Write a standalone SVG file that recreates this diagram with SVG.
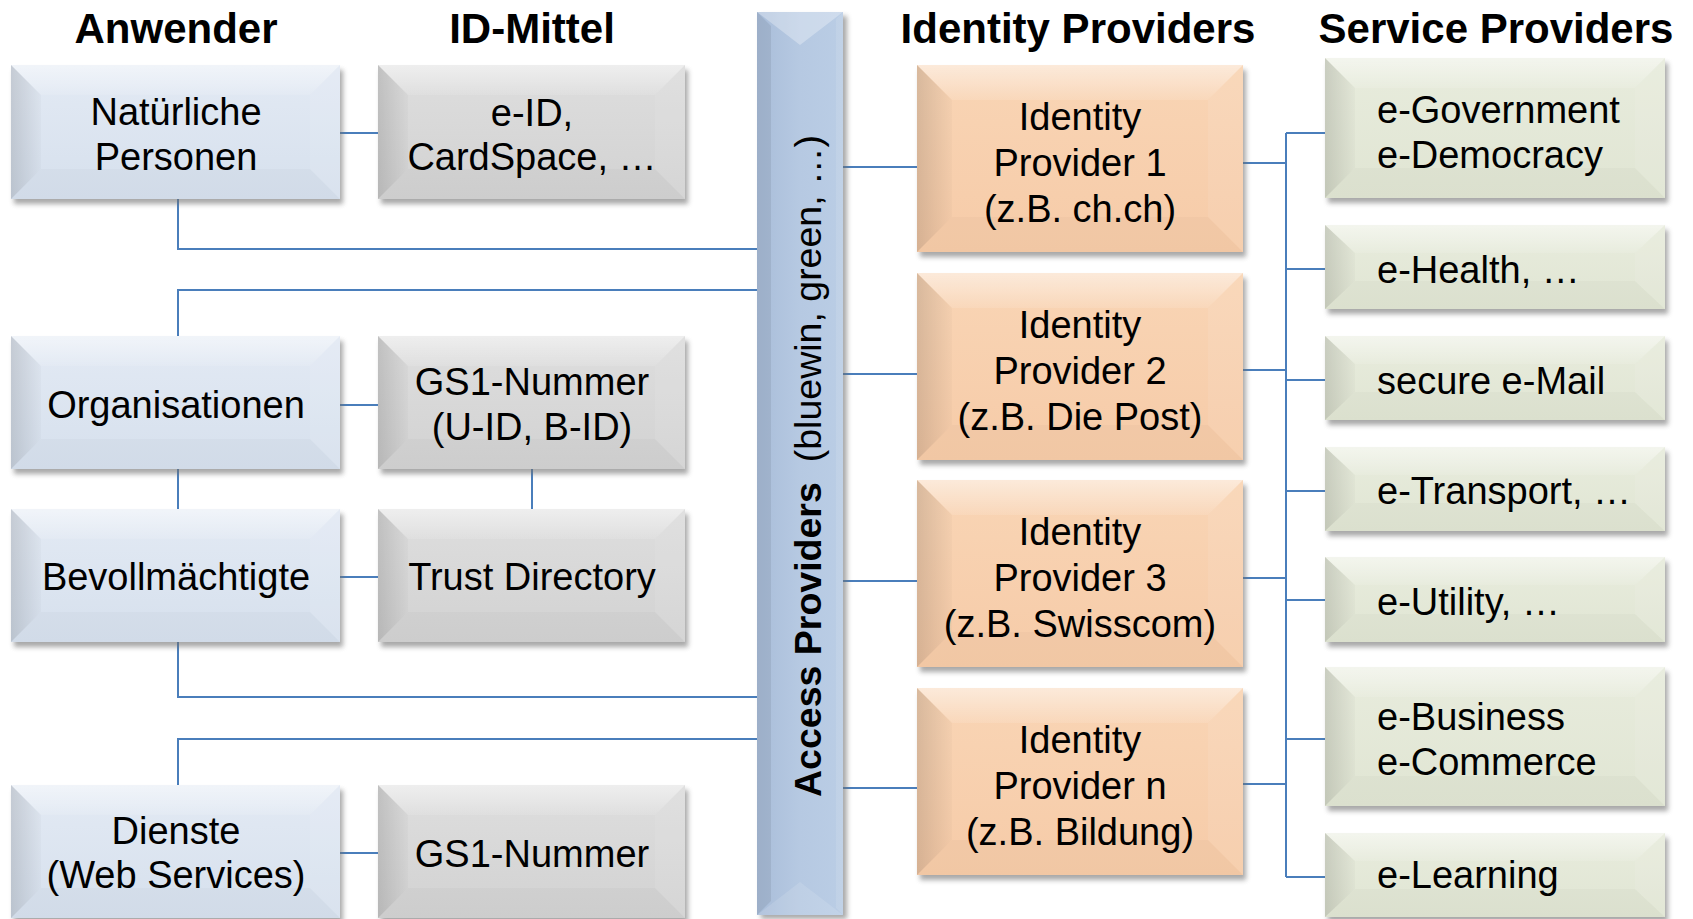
<svg xmlns="http://www.w3.org/2000/svg" width="1693" height="919" viewBox="0 0 1693 919">
<defs>
<filter id="sh" x="-10%" y="-10%" width="120%" height="130%"><feGaussianBlur stdDeviation="2.5"/></filter>
<linearGradient id="gBlue" x1="0" y1="0" x2="0" y2="1"><stop offset="0" stop-color="#E3EAF4"/><stop offset="1" stop-color="#D6E0ED"/></linearGradient>
<linearGradient id="gGrey" x1="0" y1="0" x2="0" y2="1"><stop offset="0" stop-color="#DEDEDE"/><stop offset="1" stop-color="#D2D2D2"/></linearGradient>
<linearGradient id="gOrange" x1="0" y1="0" x2="0" y2="1"><stop offset="0" stop-color="#F9D5B5"/><stop offset="1" stop-color="#F6CBA8"/></linearGradient>
<linearGradient id="gGreen" x1="0" y1="0" x2="0" y2="1"><stop offset="0" stop-color="#E8ECDD"/><stop offset="1" stop-color="#E0E5D3"/></linearGradient>
<linearGradient id="gBar" x1="0" y1="0" x2="1" y2="0"><stop offset="0" stop-color="#A9BDD9"/><stop offset="0.5" stop-color="#B6C9E2"/><stop offset="1" stop-color="#BACDE5"/></linearGradient>
<linearGradient id="gLeft" x1="0" y1="0" x2="1" y2="0"><stop offset="0" stop-color="#000" stop-opacity="0.13"/><stop offset="1" stop-color="#000" stop-opacity="0.02"/></linearGradient>
<linearGradient id="gTop" x1="0" y1="0" x2="0" y2="1"><stop offset="0" stop-color="#fff" stop-opacity="0.5"/><stop offset="1" stop-color="#fff" stop-opacity="0.1"/></linearGradient>
</defs>
<style>
text{font-family:"Liberation Sans",Arial,sans-serif;fill:#000}
.hd{font-size:42px;font-weight:bold;text-anchor:middle}
.t{font-size:38px;text-anchor:middle}
.tl{font-size:38px;text-anchor:start}
.shadow{fill:#6f6f6f;opacity:0.6;filter:url(#sh)}
.blue .face{fill:url(#gBlue)}
.grey .face{fill:url(#gGrey)}
.orange .face{fill:url(#gOrange)}
.green .face{fill:url(#gGreen)}
.ft{fill:url(#gTop)}
.fl{fill:url(#gLeft)}
.fr{fill:#fff;fill-opacity:0.08}
.fb{fill:#000;fill-opacity:0.02}
#connectors path{fill:none;stroke:#4A7EBB;stroke-width:2}
</style>
<rect width="1693" height="919" fill="#fff"/>

<g id="headers">
<text class="hd" x="176" y="43">Anwender</text>
<text class="hd" x="532" y="43">ID-Mittel</text>
<text class="hd" x="1078" y="43">Identity Providers</text>
<text class="hd" x="1496" y="43">Service Providers</text>
</g>

<g id="connectors">
<path d="M340,133 H378"/>
<path d="M178,199 V249 H757"/>
<path d="M757,290 H178 V336"/>
<path d="M340,405 H378"/>
<path d="M178,469 V509"/>
<path d="M532,469 V509"/>
<path d="M340,577 H378"/>
<path d="M178,642 V697 H757"/>
<path d="M757,739 H178 V785"/>
<path d="M340,853 H378"/>
<path d="M843,167 H917"/>
<path d="M843,374 H917"/>
<path d="M843,581 H917"/>
<path d="M843,788 H917"/>
<path d="M1243,163 H1286"/>
<path d="M1243,370 H1286"/>
<path d="M1243,578 H1286"/>
<path d="M1243,784 H1286"/>
<path d="M1286,133 V877"/>
<path d="M1286,133 H1325"/>
<path d="M1286,269 H1325"/>
<path d="M1286,380 H1325"/>
<path d="M1286,491 H1325"/>
<path d="M1286,600 H1325"/>
<path d="M1286,739 H1325"/>
<path d="M1286,877 H1325"/>
</g>

<!-- Anwender -->
<g id="n-natuerliche" class="blue">
<rect class="shadow" x="14" y="70" width="329" height="134"/>
<rect class="face" x="11" y="65" width="329" height="134"/>
<polygon class="ft" points="11,65 340,65 310,95 41,95"/>
<polygon class="fl" points="11,65 41,95 41,169 11,199"/>
<polygon class="fr" points="340,65 340,199 310,169 310,95"/>
<polygon class="fb" points="11,199 41,169 310,169 340,199"/>
<text class="t" x="176" y="125">Natürliche</text>
<text class="t" x="176" y="170">Personen</text>
</g>
<g id="n-organisationen" class="blue">
<rect class="shadow" x="14" y="341" width="329" height="133"/>
<rect class="face" x="11" y="336" width="329" height="133"/>
<polygon class="ft" points="11,336 340,336 310,366 41,366"/>
<polygon class="fl" points="11,336 41,366 41,439 11,469"/>
<polygon class="fr" points="340,336 340,469 310,439 310,366"/>
<polygon class="fb" points="11,469 41,439 310,439 340,469"/>
<text class="t" x="176" y="418">Organisationen</text>
</g>
<g id="n-bevollmaechtigte" class="blue">
<rect class="shadow" x="14" y="514" width="329" height="133"/>
<rect class="face" x="11" y="509" width="329" height="133"/>
<polygon class="ft" points="11,509 340,509 310,539 41,539"/>
<polygon class="fl" points="11,509 41,539 41,612 11,642"/>
<polygon class="fr" points="340,509 340,642 310,612 310,539"/>
<polygon class="fb" points="11,642 41,612 310,612 340,642"/>
<text class="t" x="176" y="590">Bevollmächtigte</text>
</g>
<g id="n-dienste" class="blue">
<rect class="shadow" x="14" y="790" width="329" height="133"/>
<rect class="face" x="11" y="785" width="329" height="133"/>
<polygon class="ft" points="11,785 340,785 310,815 41,815"/>
<polygon class="fl" points="11,785 41,815 41,888 11,918"/>
<polygon class="fr" points="340,785 340,918 310,888 310,815"/>
<polygon class="fb" points="11,918 41,888 310,888 340,918"/>
<text class="t" x="176" y="844">Dienste</text>
<text class="t" x="176" y="888">(Web Services)</text>
</g>

<!-- ID-Mittel -->
<g id="n-eid" class="grey">
<rect class="shadow" x="381" y="70" width="307" height="134"/>
<rect class="face" x="378" y="65" width="307" height="134"/>
<polygon class="ft" points="378,65 685,65 655,95 408,95"/>
<polygon class="fl" points="378,65 408,95 408,169 378,199"/>
<polygon class="fr" points="685,65 685,199 655,169 655,95"/>
<polygon class="fb" points="378,199 408,169 655,169 685,199"/>
<text class="t" x="532" y="126">e-ID,</text>
<text class="t" x="532" y="170">CardSpace, …</text>
</g>
<g id="n-gs1-uid" class="grey">
<rect class="shadow" x="381" y="341" width="307" height="133"/>
<rect class="face" x="378" y="336" width="307" height="133"/>
<polygon class="ft" points="378,336 685,336 655,366 408,366"/>
<polygon class="fl" points="378,336 408,366 408,439 378,469"/>
<polygon class="fr" points="685,336 685,469 655,439 655,366"/>
<polygon class="fb" points="378,469 408,439 655,439 685,469"/>
<text class="t" x="532" y="395">GS1-Nummer</text>
<text class="t" x="532" y="440">(U-ID, B-ID)</text>
</g>
<g id="n-trust" class="grey">
<rect class="shadow" x="381" y="514" width="307" height="133"/>
<rect class="face" x="378" y="509" width="307" height="133"/>
<polygon class="ft" points="378,509 685,509 655,539 408,539"/>
<polygon class="fl" points="378,509 408,539 408,612 378,642"/>
<polygon class="fr" points="685,509 685,642 655,612 655,539"/>
<polygon class="fb" points="378,642 408,612 655,612 685,642"/>
<text class="t" x="532" y="590">Trust Directory</text>
</g>
<g id="n-gs1" class="grey">
<rect class="shadow" x="381" y="790" width="307" height="133"/>
<rect class="face" x="378" y="785" width="307" height="133"/>
<polygon class="ft" points="378,785 685,785 655,815 408,815"/>
<polygon class="fl" points="378,785 408,815 408,888 378,918"/>
<polygon class="fr" points="685,785 685,918 655,888 655,815"/>
<polygon class="fb" points="378,918 408,888 655,888 685,918"/>
<text class="t" x="532" y="867">GS1-Nummer</text>
</g>

<!-- Access Providers bar -->
<g id="n-access">
<rect class="shadow" x="761" y="16" width="86" height="903"/>
<rect x="757" y="12" width="86" height="903" fill="url(#gBar)"/>
<polygon points="757,12 843,12 800,45" fill="#fff" fill-opacity="0.3"/>
<polygon points="757,12 771,26 771,901 757,915" fill="#000" fill-opacity="0.07"/>
<polygon points="843,12 836,19 836,908 843,915" fill="#fff" fill-opacity="0.1"/>
<polygon points="757,915 800,882 843,915" fill="#fff" fill-opacity="0.12"/>
<text transform="translate(821,797) rotate(-90)" style="font-size:37.5px"><tspan font-weight="bold">Access Providers</tspan><tspan dx="20">(bluewin, green, …)</tspan></text>
</g>

<!-- Identity Providers -->
<g id="n-idp1" class="orange">
<rect class="shadow" x="920" y="70" width="326" height="187"/>
<rect class="face" x="917" y="65" width="326" height="187"/>
<polygon class="ft" points="917,65 1243,65 1208,100 952,100"/>
<polygon class="fl" points="917,65 952,100 952,217 917,252"/>
<polygon class="fr" points="1243,65 1243,252 1208,217 1208,100"/>
<polygon class="fb" points="917,252 952,217 1208,217 1243,252"/>
<text class="t" x="1080" y="130">Identity</text>
<text class="t" x="1080" y="176">Provider 1</text>
<text class="t" x="1080" y="222">(z.B. ch.ch)</text>
</g>
<g id="n-idp2" class="orange">
<rect class="shadow" x="920" y="278" width="326" height="187"/>
<rect class="face" x="917" y="273" width="326" height="187"/>
<polygon class="ft" points="917,273 1243,273 1208,308 952,308"/>
<polygon class="fl" points="917,273 952,308 952,425 917,460"/>
<polygon class="fr" points="1243,273 1243,460 1208,425 1208,308"/>
<polygon class="fb" points="917,460 952,425 1208,425 1243,460"/>
<text class="t" x="1080" y="338">Identity</text>
<text class="t" x="1080" y="384">Provider 2</text>
<text class="t" x="1080" y="430">(z.B. Die Post)</text>
</g>
<g id="n-idp3" class="orange">
<rect class="shadow" x="920" y="485" width="326" height="187"/>
<rect class="face" x="917" y="480" width="326" height="187"/>
<polygon class="ft" points="917,480 1243,480 1208,515 952,515"/>
<polygon class="fl" points="917,480 952,515 952,632 917,667"/>
<polygon class="fr" points="1243,480 1243,667 1208,632 1208,515"/>
<polygon class="fb" points="917,667 952,632 1208,632 1243,667"/>
<text class="t" x="1080" y="545">Identity</text>
<text class="t" x="1080" y="591">Provider 3</text>
<text class="t" x="1080" y="637">(z.B. Swisscom)</text>
</g>
<g id="n-idpn" class="orange">
<rect class="shadow" x="920" y="693" width="326" height="187"/>
<rect class="face" x="917" y="688" width="326" height="187"/>
<polygon class="ft" points="917,688 1243,688 1208,723 952,723"/>
<polygon class="fl" points="917,688 952,723 952,840 917,875"/>
<polygon class="fr" points="1243,688 1243,875 1208,840 1208,723"/>
<polygon class="fb" points="917,875 952,840 1208,840 1243,875"/>
<text class="t" x="1080" y="753">Identity</text>
<text class="t" x="1080" y="799">Provider n</text>
<text class="t" x="1080" y="845">(z.B. Bildung)</text>
</g>

<!-- Service Providers -->
<g id="n-egov" class="green">
<rect class="shadow" x="1328" y="63" width="340" height="140"/>
<rect class="face" x="1325" y="58" width="340" height="140"/>
<polygon class="ft" points="1325,58 1665,58 1635,88 1355,88"/>
<polygon class="fl" points="1325,58 1355,88 1355,168 1325,198"/>
<polygon class="fr" points="1665,58 1665,198 1635,168 1635,88"/>
<polygon class="fb" points="1325,198 1355,168 1635,168 1665,198"/>
<text class="tl" x="1377" y="123">e-Government</text>
<text class="tl" x="1377" y="168">e-Democracy</text>
</g>
<g id="n-ehealth" class="green">
<rect class="shadow" x="1328" y="230" width="340" height="84"/>
<rect class="face" x="1325" y="225" width="340" height="84"/>
<polygon class="ft" points="1325,225 1665,225 1635,253 1355,253"/>
<polygon class="fl" points="1325,225 1355,253 1355,281 1325,309"/>
<polygon class="fr" points="1665,225 1665,309 1635,281 1635,253"/>
<polygon class="fb" points="1325,309 1355,281 1635,281 1665,309"/>
<text class="tl" x="1377" y="283">e-Health, …</text>
</g>
<g id="n-email" class="green">
<rect class="shadow" x="1328" y="341" width="340" height="84"/>
<rect class="face" x="1325" y="336" width="340" height="84"/>
<polygon class="ft" points="1325,336 1665,336 1635,364 1355,364"/>
<polygon class="fl" points="1325,336 1355,364 1355,392 1325,420"/>
<polygon class="fr" points="1665,336 1665,420 1635,392 1635,364"/>
<polygon class="fb" points="1325,420 1355,392 1635,392 1665,420"/>
<text class="tl" x="1377" y="394">secure e-Mail</text>
</g>
<g id="n-etransport" class="green">
<rect class="shadow" x="1328" y="452" width="340" height="84"/>
<rect class="face" x="1325" y="447" width="340" height="84"/>
<polygon class="ft" points="1325,447 1665,447 1635,475 1355,475"/>
<polygon class="fl" points="1325,447 1355,475 1355,503 1325,531"/>
<polygon class="fr" points="1665,447 1665,531 1635,503 1635,475"/>
<polygon class="fb" points="1325,531 1355,503 1635,503 1665,531"/>
<text class="tl" x="1377" y="504">e-Transport, …</text>
</g>
<g id="n-eutility" class="green">
<rect class="shadow" x="1328" y="562" width="340" height="85"/>
<rect class="face" x="1325" y="557" width="340" height="85"/>
<polygon class="ft" points="1325,557 1665,557 1635,585 1355,585"/>
<polygon class="fl" points="1325,557 1355,585 1355,614 1325,642"/>
<polygon class="fr" points="1665,557 1665,642 1635,614 1635,585"/>
<polygon class="fb" points="1325,642 1355,614 1635,614 1665,642"/>
<text class="tl" x="1377" y="615">e-Utility, …</text>
</g>
<g id="n-ebusiness" class="green">
<rect class="shadow" x="1328" y="672" width="340" height="139"/>
<rect class="face" x="1325" y="667" width="340" height="139"/>
<polygon class="ft" points="1325,667 1665,667 1635,697 1355,697"/>
<polygon class="fl" points="1325,667 1355,697 1355,776 1325,806"/>
<polygon class="fr" points="1665,667 1665,806 1635,776 1635,697"/>
<polygon class="fb" points="1325,806 1355,776 1635,776 1665,806"/>
<text class="tl" x="1377" y="730">e-Business</text>
<text class="tl" x="1377" y="775">e-Commerce</text>
</g>
<g id="n-elearning" class="green">
<rect class="shadow" x="1328" y="838" width="340" height="84"/>
<rect class="face" x="1325" y="833" width="340" height="84"/>
<polygon class="ft" points="1325,833 1665,833 1635,861 1355,861"/>
<polygon class="fl" points="1325,833 1355,861 1355,889 1325,917"/>
<polygon class="fr" points="1665,833 1665,917 1635,889 1635,861"/>
<polygon class="fb" points="1325,917 1355,889 1635,889 1665,917"/>
<text class="tl" x="1377" y="888">e-Learning</text>
</g>
</svg>
